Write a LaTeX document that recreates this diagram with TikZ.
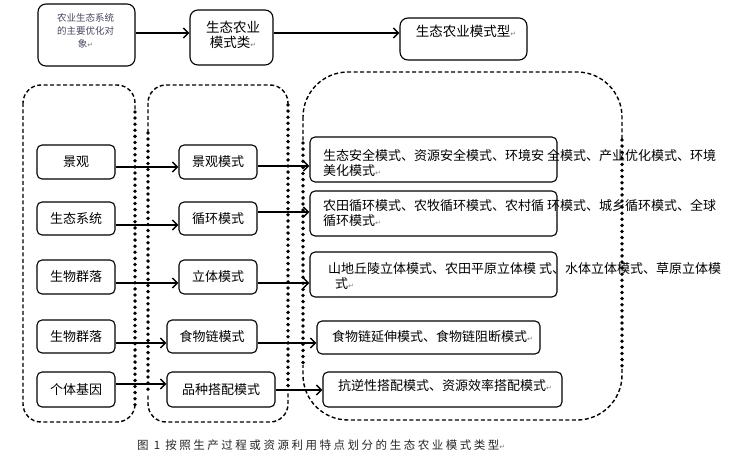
\documentclass[tikz,border=0pt]{standalone}
\usepackage{fontspec}
\setmainfont{Noto Sans CJK SC}
\newfontfamily\djv{DejaVu Sans}
\newfontfamily\capfont[LetterSpace=22]{Noto Sans CJK SC}
\usetikzlibrary{arrows.meta,calc}
\definecolor{smalltxt}{RGB}{70,70,95}
\newcommand\retmark{{\djv\color{gray}\fontsize{7}{7}\selectfont ↵}}
\begin{document}
\begin{tikzpicture}[x=1pt,y=-1pt,
 box/.style={draw, line width=1.1pt, rounded corners=5pt, inner sep=0pt},
 grp/.style={draw, line width=1.4pt, dash pattern=on 4pt off 2.5pt, rounded corners=#1},
 erase/.style={draw=white, line width=3pt},
 arr/.style={line width=1.5pt, -{Straight Barb[length=5pt,width=10pt,line width=1.4pt]}},
 txt/.style={font=\fontsize{13}{15}\selectfont, inner sep=0pt, align=left},
 ctxt/.style={font=\fontsize{13}{15}\selectfont, inner sep=0pt, align=center},
]
\useasboundingbox (0,0) rectangle (739,462);

% group outlines
\draw[grp=18pt] (23,85) rectangle (135,422);
\draw[grp=18pt] (148,85) rectangle (288,422);
\draw[grp=45pt] (303,72) rectangle (622,420);
% dotted parts of the outlines
\foreach \x/\a/\b in {135/112/405, 148/133/395, 288/105/390, 303/143/365, 622/140/368}{
  \draw[erase] (\x,\a) -- (\x,\b);
  \pgfmathsetmacro{\s}{\a+6.1}
  \foreach \yy in {\a,\s,...,\b}{
    \fill (\x,\yy) circle (1.9pt);
  }
}

% top row
\node[box, rounded corners=8pt, minimum width=97pt, minimum height=62pt] (A) at (86.5,35) {};
\node[font=\fontsize{9.5}{13}\selectfont, text=smalltxt, align=center, inner sep=0pt] (At) at (85.5,31)
  {农业生态系统\\的主要优化对\\象\retmark};
\node[box, rounded corners=8pt, minimum width=83pt, minimum height=55pt] (B) at (231.5,37.5) {};
\node[font=\fontsize{13.5}{15}\selectfont, align=center, inner sep=0pt] (Bt) at (233,34.5)
  {生态农业\\模式类\retmark};
\node[box, rounded corners=8pt, minimum width=127pt, minimum height=42pt] (C) at (463.5,39) {};
\node[font=\fontsize{13.5}{15}\selectfont, inner sep=0pt] (Ct) at (466,31) {生态农业模式型\retmark};

\path ($(A.east)+(0,-2)$) coordinate (pa);
\draw[arr] (pa) -- (pa -| B.west);
\path ($(B.east)+(0,-4.5)$) coordinate (pb);
\draw[arr] (pb) -- (pb -| C.west);

% left column
\foreach \n/\y/\h/\t in {l1/162/34/景观, l2/218.5/33/生态系统, l3/277/34/生物群落, l4/336.5/33/生物群落, l5/389.5/35/个体基因}{
  \node[box, minimum width=78pt, minimum height=\h pt, ctxt] (\n) at (76,\y) {\t};
}
% middle column
\node[box, minimum width=78pt, minimum height=34pt, ctxt] (m1) at (218,162) {景观模式};
\node[box, minimum width=78pt, minimum height=33pt, ctxt] (m2) at (218,218.5) {循环模式};
\node[box, minimum width=78pt, minimum height=34pt, ctxt] (m3) at (218,277) {立体模式};
\node[box, minimum width=90pt, minimum height=33pt, ctxt] (m4) at (212,336.5) {食物链模式};
\node[box, minimum width=108pt, minimum height=35pt, ctxt] (m5) at (221,389.5) {品种搭配模式};

% right column boxes
\node[box, minimum width=247pt, minimum height=45pt] (r1) at (433.5,159.5) {};
\node[box, minimum width=247pt, minimum height=45pt] (r2) at (433.5,213.5) {};
\node[box, minimum width=247pt, minimum height=45pt] (r3) at (433.5,274.5) {};
\node[box, minimum width=223pt, minimum height=33pt] (r4) at (428.5,337.5) {};
\node[box, minimum width=239pt, minimum height=35pt] (r5) at (442.5,389.5) {};

\node[txt, anchor=west] (r1t) at (323,163) {生态安全模式、资源安全模式、环境安 全模式、产业优化模式、环境\\美化模式\retmark};
\node[txt, anchor=west] (r2t) at (323,213) {农田循环模式、农牧循环模式、农村循 环模式、城乡循环模式、全球\\循环模式\retmark};
\node[txt, anchor=west] (r3t) at (328,276) {山地丘陵立体模式、农田平原立体模 式、水体立体模式、草原立体模\\\hspace*{7pt}式\retmark};
\node[txt, anchor=west] (r4t) at (332,337) {食物链延伸模式、食物链阻断模式\retmark};
\node[txt, anchor=west] (r5t) at (338,386) {抗逆性搭配模式、资源效率搭配模式\retmark};

% arrows left -> middle
\foreach \i/\d in {1/5, 2/6.5, 3/6, 4/6.5, 5/-5.5}{
  \path ($(l\i.east)+(0,\d)$) coordinate (p\i);
  \draw[arr] (p\i) -- (p\i -| m\i.west);
}
% arrows middle -> right
\foreach \i/\d in {1/4, 2/-6.5, 3/6, 4/6.5, 5/0.5}{
  \path ($(m\i.east)+(0,\d)$) coordinate (q\i);
  \draw[arr] (q\i) -- (q\i -| r\i.west);
}

% caption
\node[anchor=west, font=\capfont\fontsize{11.5}{13}\selectfont, text=black!85, inner sep=0pt] (cap) at (137,445)
  {图 1 按照生产过程或资源利用特点划分的生态农业模式类型\retmark};
\end{tikzpicture}
\end{document}
